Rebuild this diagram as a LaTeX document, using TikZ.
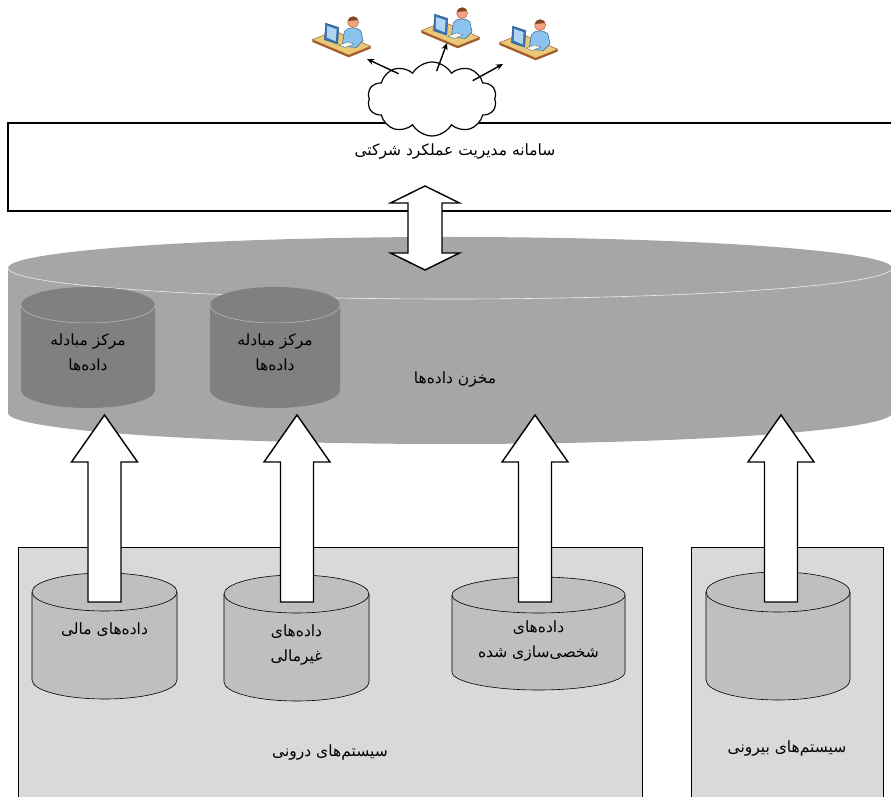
\documentclass[tikz,border=0pt]{standalone}
\usepackage{fontspec}
\usetikzlibrary{arrows.meta,calc,shapes.symbols}
\TeXXeTstate=1
\newfontfamily\fa[Script=Arabic]{DejaVu Sans}

\definecolor{warehouse}{HTML}{A6A6A6}
\definecolor{hubgray}{HTML}{808080}
\definecolor{sysgray}{HTML}{D9D9D9}
\definecolor{storegray}{HTML}{BFBFBF}
\definecolor{desktan}{HTML}{E9C977}
\definecolor{deskedge}{HTML}{A2592A}
\definecolor{screenblue}{HTML}{3D6FB4}
\definecolor{userblue}{HTML}{8CC3EC}
\definecolor{userline}{HTML}{2F5D8C}
\definecolor{skin}{HTML}{F2A27E}

\tikzset{
  label_fa/.style={font=\fa\fontsize{15.5}{25}\selectfont, align=center, inner sep=0pt},
  blockarrow/.style={draw=black, fill=white, line width=1.4pt, line join=miter},
  sysbox/.style={draw=black, fill=sysgray, line width=0.9pt},
  storefill/.style={fill=storegray, draw=black, line width=0.6pt},
  storerim/.style={draw=black, line width=0.6pt},
  hubfill/.style={fill=hubgray},
  hubrim/.style={draw=storegray, line width=0.5pt},
  netarrow/.style={-{Stealth[length=7pt,width=6pt]}, line width=1.4pt, shorten <=-9pt},
}

% drum: {cx}{top y}{bottom y}{rx}{ry}{fill style}{rim style}
\newcommand\drum[7]{%
  \path[#6] (#1-#4,#2) arc[start angle=180,end angle=0,x radius=#4,y radius=#5]
    -- (#1+#4,#3) arc[start angle=0,end angle=-180,x radius=#4,y radius=#5] -- cycle;
  \draw[#7] (#1-#4,#2) arc[start angle=180,end angle=360,x radius=#4,y radius=#5];}

% upward block arrow from a base point to a tip point
\newcommand\liftarrow[2]{%
  \draw[blockarrow] ($(#1)+(-16.5,0)$) -- ($(#2)+(-16.5,-47)$) -- ($(#2)+(-33,-47)$)
    -- (#2) -- ($(#2)+(33,-47)$) -- ($(#2)+(16.5,-47)$) -- ($(#1)+(16.5,0)$) -- cycle;}

% operator at a desk, placed at a named coordinate
\newcommand\operatoricon[1]{%
  \begin{scope}[shift={(#1)}, scale=1.1]
    \fill[deskedge] (-26,3) -- (7,-11) -- (27,-3) -- (27,-5) -- (7,-13) -- (-26,1) -- cycle;
    \filldraw[fill=desktan, draw=deskedge, line width=0.5pt] (-26,3) -- (-6,11) -- (27,-3) -- (7,-11) -- cycle;
    \filldraw[fill=screenblue, draw=userline, line width=0.5pt] (-15,3) -- (-14,18) -- (-2,14) -- (-3,-1) -- cycle;
    \fill[userblue!70!white] (-13,5) -- (-12.5,15.5) -- (-4,12.5) -- (-4.8,1.5) -- cycle;
    \filldraw[fill=userblue, draw=userline, line width=0.5pt] (1,-3) -- (3,10) .. controls (6,15) and (14,15) .. (18,11) -- (20,2) -- (14,-4) -- cycle;
    \filldraw[fill=white!85!desktan, draw=userline, line width=0.3pt] (-2,-2) -- (6,1) -- (12,-1) -- (4,-4) -- cycle;
    \filldraw[fill=skin, draw=deskedge, line width=0.4pt] (11,19) circle[radius=5];
    \fill[deskedge!80!black] (6.2,20) arc[start angle=170,end angle=20,radius=4.9] -- cycle;
  \end{scope}}

\begin{document}
\begin{tikzpicture}[x=1pt,y=1pt]
  \useasboundingbox (0,0) rectangle (891,796);
  \clip (0,0) rectangle (891,796);

  % performance management system
  \draw[line width=1.6pt] (8,585) rectangle (905,673);
  \node[label_fa] (pms_label) at (455,644) {\beginR سامانه مدیریت عملکرد شرکتی\endR};

  % users on the network
  \node[cloud, draw, fill=white, line width=1.2pt, cloud puffs=10, cloud puff arc=120,
        aspect=1.75, minimum width=129, minimum height=74, inner sep=0pt] (net) at (432,697) {};
  \coordinate (user_a) at (341,753);
  \coordinate (user_b) at (450,762);
  \coordinate (user_c) at (528,750);
  \operatoricon{user_a}
  \operatoricon{user_b}
  \operatoricon{user_c}
  \coordinate (tip_a) at (367,737);
  \coordinate (tip_b) at (447,753);
  \coordinate (tip_c) at (503,732);
  \draw[netarrow] (net.145) -- (tip_a);
  \draw[netarrow] (net.78) -- (tip_b);
  \draw[netarrow] (net.25) -- (tip_c);

  % data warehouse with the two exchange hubs
  \drum{450}{528}{383}{442}{31}{fill=warehouse}{draw=white!80!warehouse, line width=0.6pt}
  \drum{88}{491}{406}{67}{18}{hubfill}{hubrim}
  \drum{275}{491}{406}{65}{18}{hubfill}{hubrim}
  \node[label_fa] (hub_a) at (88,444) {\beginR مرکز مبادله\endR\\\beginR داده^^^^200cها\endR};
  \node[label_fa] (hub_b) at (275,444) {\beginR مرکز مبادله\endR\\\beginR داده^^^^200cها\endR};
  \node[label_fa] (dw_label) at (455,416) {\beginR مخزن داده^^^^200cها\endR};

  % source systems
  \draw[sysbox] (18,-10) rectangle (642,249);
  \draw[sysbox] (691,-10) rectangle (883,249);
  \drum{104.5}{204}{116}{72.5}{19}{storefill}{storerim}
  \drum{296.5}{202}{114}{72.5}{19}{storefill}{storerim}
  \drum{538.5}{201}{124}{86.5}{18}{storefill}{storerim}
  \drum{778}{204}{116}{72}{20}{storefill}{storerim}
  \node[label_fa] (fin_label) at (104.5,166) {\beginR داده^^^^200cهای مالی\endR};
  \node[label_fa] (nonfin_label) at (296.5,151) {\beginR داده^^^^200cهای\endR\\\beginR غیرمالی\endR};
  \node[label_fa] (custom_label) at (538.5,154.5) {\beginR داده^^^^200cهای\endR\\\beginR شخصی^^^^200cسازی شده\endR};
  \node[label_fa] (inner_label) at (330,44) {\beginR سیستم^^^^200cهای درونی\endR};
  \node[label_fa] (outer_label) at (787,48) {\beginR سیستم^^^^200cهای بیرونی\endR};

  % loading arrows into the warehouse
  \coordinate (fin_base) at (104.5,194);
  \coordinate (nonfin_base) at (297,194);
  \coordinate (custom_base) at (535,194);
  \coordinate (outer_base) at (781,194);
  \coordinate (dw_in_a) at (104.5,381);
  \coordinate (dw_in_b) at (297,381);
  \coordinate (dw_in_c) at (535,381);
  \coordinate (dw_in_d) at (781,381);
  \liftarrow{fin_base}{dw_in_a}
  \liftarrow{nonfin_base}{dw_in_b}
  \liftarrow{custom_base}{dw_in_c}
  \liftarrow{outer_base}{dw_in_d}

  % two-way link between warehouse and the system
  \coordinate (link_top) at (425,610);
  \coordinate (link_bot) at (425,526);
  \draw[blockarrow] (link_top) -- ($(link_top)+(34.5,-17)$) -- ($(link_top)+(17,-17)$)
    -- ($(link_bot)+(17,17)$) -- ($(link_bot)+(34.5,17)$) -- (link_bot)
    -- ($(link_bot)+(-34.5,17)$) -- ($(link_bot)+(-17,17)$)
    -- ($(link_top)+(-17,-17)$) -- ($(link_top)+(-34.5,-17)$) -- cycle;
\end{tikzpicture}
\end{document}
